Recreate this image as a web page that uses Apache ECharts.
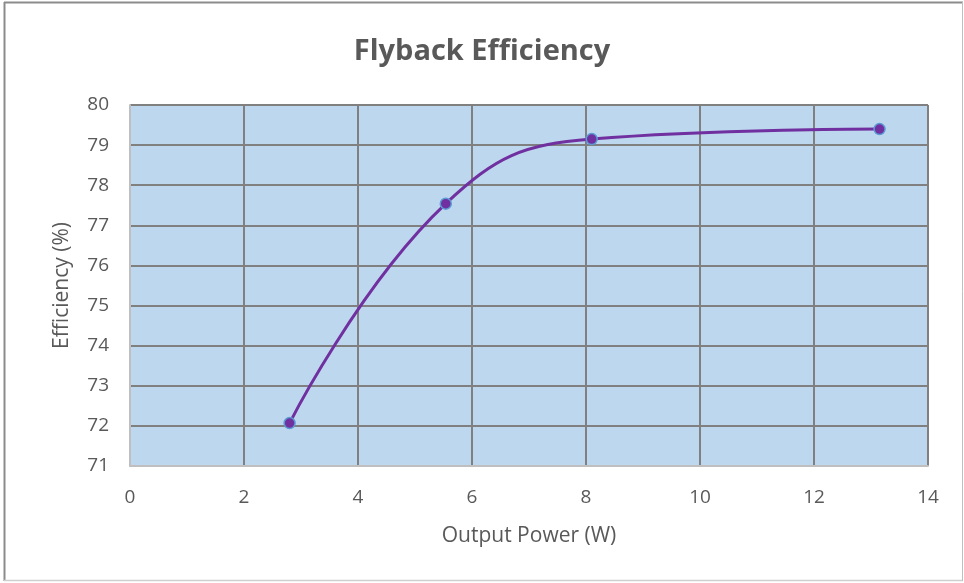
<!DOCTYPE html>
<html>
<head>
<meta charset="utf-8">
<script src="https://cdn.jsdelivr.net/npm/echarts@6/dist/echarts.min.js"></script>
<style>
  html, body { margin: 0; padding: 0; background: #fff; }
  #chart { width: 964px; height: 583px; }
</style>
</head>
<body>
<div id="chart"></div>
<script>
// Measured flyback converter efficiency vs. output power
const outputPower = [2.8, 5.54, 8.1, 13.15];
const efficiency = [72.07, 77.54, 79.15, 79.4];

const xTicks = { min: 0, max: 14, interval: 2 };
const yTicks = { min: 71, max: 80, interval: 1 };

const chart = echarts.init(document.getElementById('chart'), null, { renderer: 'canvas' });

const fontFamily = 'Open Sans, Noto Sans, sans-serif';
const textColor = '#595959';

chart.setOption({
  backgroundColor: '#ffffff',
  animation: false,
  title: {
    text: 'Flyback Efficiency',
    left: 'center',
    top: 32,
    textStyle: { fontFamily, fontSize: 29, fontWeight: 'bold', color: textColor }
  },
  grid: {
    left: 130, top: 105, width: 798, height: 361,
    show: true, backgroundColor: '#BDD7EE', borderWidth: 0
  },
  xAxis: {
    type: 'value',
    min: xTicks.min, max: xTicks.max, interval: xTicks.interval,
    name: 'Output Power (W)',
    nameLocation: 'middle',
    nameGap: 60,
    nameTextStyle: { fontFamily, fontSize: 21, color: textColor },
    axisLine: { show: true, onZero: false, lineStyle: { color: '#bfbfbf', width: 2 } },
    axisTick: { show: false },
    axisLabel: { fontFamily, fontSize: 19, color: textColor, margin: 22 },
    splitLine: { show: true, lineStyle: { color: '#808080', width: 2 } }
  },
  yAxis: {
    type: 'value',
    min: yTicks.min, max: yTicks.max, interval: yTicks.interval,
    name: 'Efficiency (%)',
    nameLocation: 'middle',
    nameGap: 57,
    nameRotate: 90,
    nameTextStyle: { fontFamily, fontSize: 21, color: textColor },
    axisLine: { show: true, lineStyle: { color: '#bfbfbf', width: 2 } },
    axisTick: { show: false },
    axisLabel: { fontFamily, fontSize: 19, color: textColor, margin: 21 },
    splitLine: { show: true, lineStyle: { color: '#808080', width: 2 } }
  },
  series: [{
    type: 'line',
    data: outputPower.map((x, i) => [x, efficiency[i]]),
    smooth: 0.45,
    symbol: 'circle',
    symbolSize: 11,
    lineStyle: { color: '#7030A0', width: 3 },
    itemStyle: { color: '#7030A0', borderColor: '#5B9BD5', borderWidth: 1.5 },
    z: 5
  }],
  graphic: [
    { type: 'line', shape: { x1: 4, y1: 2.5, x2: 963, y2: 2.5 }, style: { stroke: '#8c8c8c', lineWidth: 2 } },
    { type: 'line', shape: { x1: 4.5, y1: 2, x2: 4.5, y2: 581 }, style: { stroke: '#8c8c8c', lineWidth: 2 } },
    { type: 'line', shape: { x1: 4, y1: 580.5, x2: 963, y2: 580.5 }, style: { stroke: '#d0d0d0', lineWidth: 1.5 } },
    { type: 'line', shape: { x1: 962.5, y1: 2, x2: 962.5, y2: 581 }, style: { stroke: '#bfbfbf', lineWidth: 1 } }
  ]
});
</script>
</body>
</html>
